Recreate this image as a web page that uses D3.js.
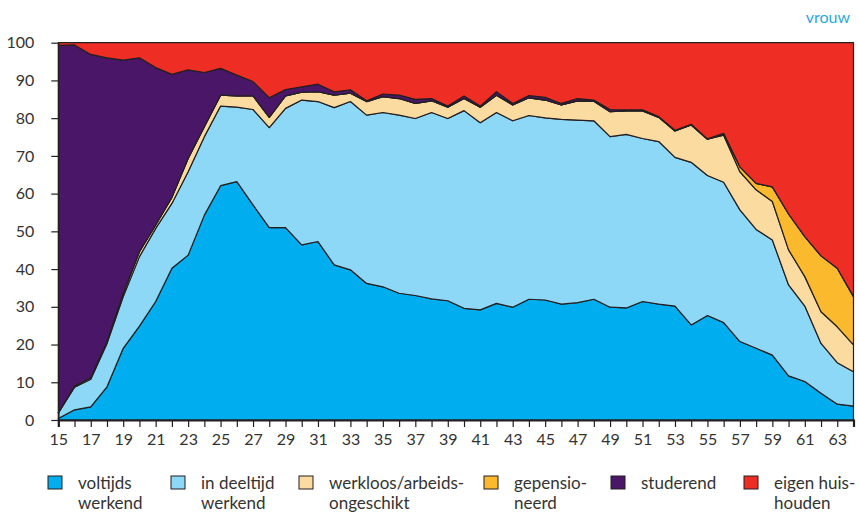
<!DOCTYPE html>
<html>
<head>
<meta charset="utf-8">
<script src="https://cdn.jsdelivr.net/npm/d3@7"></script>
<style>
  body { margin: 0; background: #fff; }
  svg { display: block; font-family: Lato, "Open Sans", sans-serif; }
</style>
</head>
<body>
<svg id="chart" width="858" height="513"></svg>
<script>
// ages 15..64, percentages per status (women)
const ages = d3.range(15, 65);

const voltijds = [0.4, 2.7, 3.5, 8.8, 19.0, 24.9, 31.4, 40.2, 43.7, 54.3, 62.1, 63.2, 57.0, 51.0, 51.0,
  46.4, 47.3, 41.1, 39.8, 36.2, 35.3, 33.6, 33.0, 32.1, 31.6, 29.6, 29.2, 30.9, 29.9, 32.0,
  31.8, 30.7, 31.1, 32.0, 29.9, 29.7, 31.4, 30.7, 30.2, 25.2, 27.7, 25.8, 20.8, 19.0, 17.2,
  11.7, 10.2, 7.1, 4.2, 3.7];
const deeltijd = [1.5, 6.0, 7.3, 11.5, 13.7, 18.4, 19.4, 17.2, 22.1, 20.8, 21.1, 19.7, 25.3, 26.5, 31.6,
  38.4, 37.1, 41.7, 44.6, 44.6, 46.2, 47.2, 46.9, 49.4, 48.3, 52.4, 49.6, 50.6, 49.4, 48.7,
  48.3, 49.0, 48.4, 47.3, 45.2, 46.0, 43.2, 43.1, 39.4, 43.1, 37.1, 37.2, 34.9, 31.5, 30.5,
  24.1, 20.0, 13.2, 11.0, 9.1];
const werkloos = [0, 0.3, 0.4, 0.5, 0.9, 1.3, 0.9, 1.6, 3.5, 2.6, 2.9, 3.0, 3.6, 2.7, 3.3,
  2.1, 2.6, 3.3, 2.2, 3.6, 4.2, 4.4, 4.0, 3.1, 3.0, 3.2, 4.1, 4.6, 4.2, 4.7,
  4.7, 3.8, 5.1, 5.2, 6.6, 6.2, 7.3, 6.4, 7.0, 9.9, 9.6, 12.5, 10.1, 10.5, 10.2,
  9.3, 7.8, 8.4, 9.5, 7.1];
const gepensioneerd = [0, 0, 0, 0, 0, 0, 0, 0, 0, 0, 0, 0, 0, 0, 0,
  0, 0, 0, 0, 0, 0, 0, 0, 0, 0, 0, 0, 0, 0, 0,
  0, 0, 0, 0, 0, 0, 0, 0, 0, 0, 0, 0.3, 1.3, 1.7, 3.9,
  9.5, 10.6, 14.8, 15.5, 12.8];
const studerend = [97.4, 90.4, 85.7, 75.2, 61.8, 51.4, 41.7, 32.6, 23.5, 14.4, 7.1, 5.5, 3.8, 5.2, 1.7,
  1.4, 2.0, 0.9, 0.9, 0.2, 0.7, 0.9, 1.1, 0.6, 0.3, 0.7, 0.3, 0.9, 0.4, 0.6,
  0.7, 0.4, 0.6, 0.3, 0.6, 0.3, 0.3, 0.2, 0.2, 0.2, 0.1, 0.2, 0, 0, 0,
  0, 0, 0, 0, 0];
const eigenHuishouden = [0.7, 0.6, 3.1, 4.0, 4.6, 4.0, 6.6, 8.4, 7.2, 7.9, 6.8, 8.6, 10.3, 14.6, 12.4,
  11.7, 11.0, 13.0, 12.5, 15.4, 13.6, 13.9, 15.0, 14.8, 16.8, 14.1, 16.8, 13.0, 16.1, 14.0,
  14.5, 16.1, 14.8, 15.2, 17.7, 17.8, 17.8, 19.6, 23.2, 21.6, 25.5, 24.0, 32.9, 37.3, 38.2,
  45.4, 51.4, 56.5, 59.8, 67.3];

const seriesKeys = ["voltijds", "deeltijd", "werkloos", "gepensioneerd", "studerend", "eigen"];
const seriesValues = [voltijds, deeltijd, werkloos, gepensioneerd, studerend, eigenHuishouden];
const seriesColors = ["#00aeef", "#8dd7f7", "#fcdba0", "#fbb92e", "#4a1768", "#ee2e24"];
const legendLabels = [
  ["voltijds", "werkend"],
  ["in deeltijd", "werkend"],
  ["werkloos/arbeids-", "ongeschikt"],
  ["gepensio-", "neerd"],
  ["studerend"],
  ["eigen huis-", "houden"]
];
const legendX = [48, 171, 299, 484, 611, 744];

const yTicks = d3.range(0, 101, 10);
const ink = "#231f20";
const textColor = "#333";

const rows = ages.map((age, i) => {
  const r = { age };
  seriesKeys.forEach((k, j) => r[k] = seriesValues[j][i]);
  return r;
});

const svg = d3.select("#chart");

const x = d3.scaleLinear().domain([15, 64]).range([58.3, 853.5]);
const y = d3.scaleLinear().domain([0, 100]).range([420, 42.7]);

const stacked = d3.stack().keys(seriesKeys)(rows);

const area = d3.area()
  .x(d => x(d.data.age))
  .y0(d => y(d[0]))
  .y1(d => y(d[1]));

svg.append("g").selectAll("path")
  .data(stacked)
  .join("path")
  .attr("d", area)
  .attr("fill", (d, i) => seriesColors[i])
  .attr("stroke", ink)
  .attr("stroke-width", 1.2)
  .attr("stroke-linejoin", "round");

// axes
const xAxis = svg.append("g")
  .attr("transform", `translate(0,${y(0)})`)
  .call(d3.axisBottom(x).tickValues(ages).tickSize(7).tickPadding(7)
    .tickFormat(d => d % 2 ? d : ""));
xAxis.select(".domain").attr("stroke", ink).attr("stroke-width", 2.2);
xAxis.selectAll(".tick line").attr("stroke", ink).attr("stroke-width", 1.2);
xAxis.selectAll(".tick text").attr("fill", textColor).style("font-size", "16px")
  .style("font-family", "Lato, sans-serif");

const yAxis = svg.append("g")
  .attr("transform", `translate(${x(15)},0)`)
  .call(d3.axisLeft(y).tickValues(yTicks).tickSize(7).tickPadding(17).tickSizeOuter(0));
yAxis.select(".domain").attr("stroke", ink).attr("stroke-width", 1.5);
yAxis.selectAll(".tick line").attr("stroke", ink).attr("stroke-width", 1.2);
yAxis.selectAll(".tick text").attr("fill", textColor).style("font-size", "16px")
  .style("font-family", "Lato, sans-serif");

// title tag
svg.append("text")
  .attr("x", 850).attr("y", 23)
  .attr("text-anchor", "end")
  .attr("fill", "#29a9e0")
  .style("font-size", "16px")
  .text("vrouw");

// legend
const legend = svg.append("g").selectAll("g")
  .data(seriesKeys)
  .join("g")
  .attr("transform", (d, i) => `translate(${legendX[i]},476)`);

legend.append("rect")
  .attr("width", 14).attr("height", 13)
  .attr("fill", (d, i) => seriesColors[i])
  .attr("stroke", ink).attr("stroke-width", 1);

legend.append("text")
  .attr("x", 30).attr("y", 13)
  .attr("fill", textColor)
  .style("font-size", "17px")
  .selectAll("tspan")
  .data((d, i) => legendLabels[i])
  .join("tspan")
  .attr("x", 30)
  .attr("dy", (d, i) => i ? 20 : 0)
  .text(d => d);
</script>
</body>
</html>
